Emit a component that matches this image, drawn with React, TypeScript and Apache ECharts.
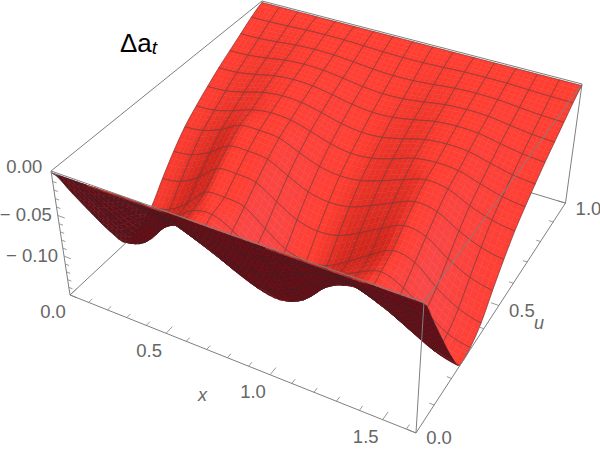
import React, { useEffect, useRef } from "react";
import * as echarts from "echarts";

const xTicks = [0, 0.5, 1, 1.5];
const xTickLabels = ["0.0", "0.5", "1.0", "1.5"];
const uTicks = [0, 0.5, 1];
const uTickLabels = ["0.0", "0.5", "1.0"];
const zTicks = [0, -0.05, -0.1];
const zTickLabels = ["0.00", "\u2212 0.05", "\u2212 0.10"];
const xMax = 1.64;
const zTop = 0.002;
const zBottom = -0.15;

// Surface heights: one row per u mesh line (u = 0 to 1), 17 values along x.
const zU00 = [0, 0, 0, 0, 0, 0, 0, 0, 0, 0, 0, 0, 0, 0, 0, 0, 0];
const zU01 = [-0.039, -0.0367, -0.0296, -0.026, -0.0265, -0.0308, -0.0347, -0.0378, -0.039, -0.0363, -0.0296, -0.0261, -0.0254, -0.0289, -0.0332, -0.0371, -0.039];
const zU02 = [-0.0795, -0.0747, -0.0604, -0.053, -0.0541, -0.0628, -0.0708, -0.0771, -0.0795, -0.0739, -0.0604, -0.0533, -0.0517, -0.0588, -0.0676, -0.0755, -0.0795];
const zU03 = [-0.1185, -0.1114, -0.0901, -0.079, -0.0806, -0.0936, -0.1055, -0.1149, -0.1185, -0.1102, -0.0901, -0.0794, -0.077, -0.0877, -0.1007, -0.1126, -0.1185];
const zU04 = [-0.15, -0.141, -0.114, -0.1001, -0.102, -0.1185, -0.1335, -0.1455, -0.15, -0.1395, -0.114, -0.1005, -0.0975, -0.111, -0.1275, -0.1425, -0.15];
const zU05 = [-0.147, -0.1397, -0.116, -0.098, -0.0941, -0.1058, -0.125, -0.1411, -0.147, -0.1411, -0.118, -0.1029, -0.0926, -0.1029, -0.122, -0.1397, -0.147];
const zU06 = [-0.135, -0.1296, -0.1134, -0.09, -0.0882, -0.0918, -0.1107, -0.1283, -0.135, -0.131, -0.1161, -0.0986, -0.0837, -0.0891, -0.1107, -0.1269, -0.135];
const zU07 = [-0.1125, -0.108, -0.0945, -0.075, -0.0735, -0.0765, -0.0923, -0.1069, -0.1125, -0.1091, -0.0968, -0.0821, -0.0698, -0.0743, -0.0923, -0.1058, -0.1125];
const zU08 = [-0.0915, -0.0878, -0.0769, -0.061, -0.0597, -0.0622, -0.075, -0.0869, -0.0915, -0.0888, -0.0787, -0.0668, -0.0567, -0.0604, -0.075, -0.086, -0.0915];
const zU09 = [-0.0735, -0.0706, -0.0617, -0.049, -0.048, -0.05, -0.0603, -0.0698, -0.0735, -0.0713, -0.0632, -0.0537, -0.0456, -0.0485, -0.0603, -0.0691, -0.0735];
const zU10 = [-0.06, -0.0582, -0.0516, -0.0432, -0.0396, -0.0414, -0.048, -0.0558, -0.06, -0.0582, -0.051, -0.0426, -0.0396, -0.0414, -0.0492, -0.0564, -0.06];
const zU11 = [-0.048, -0.0466, -0.0413, -0.0346, -0.0317, -0.0331, -0.0384, -0.0446, -0.048, -0.0466, -0.0408, -0.0341, -0.0317, -0.0331, -0.0394, -0.0451, -0.048];
const zU12 = [-0.0368, -0.0357, -0.0316, -0.0265, -0.0243, -0.0254, -0.0294, -0.0342, -0.0368, -0.0357, -0.0313, -0.0261, -0.0243, -0.0254, -0.0302, -0.0346, -0.0368];
const zU13 = [-0.027, -0.0262, -0.0232, -0.0194, -0.0178, -0.0186, -0.0216, -0.0251, -0.027, -0.0262, -0.023, -0.0192, -0.0178, -0.0186, -0.0221, -0.0254, -0.027];
const zU14 = [-0.0173, -0.0168, -0.0149, -0.0125, -0.0114, -0.0119, -0.0138, -0.0161, -0.0173, -0.0168, -0.0147, -0.0123, -0.0114, -0.0119, -0.0142, -0.0163, -0.0173];
const zU15 = [-0.0075, -0.0073, -0.0065, -0.0054, -0.005, -0.0052, -0.006, -0.007, -0.0075, -0.0073, -0.0064, -0.0053, -0.005, -0.0052, -0.0062, -0.0071, -0.0075];
const zU16 = [0, 0, 0, 0, 0, 0, 0, 0, 0, 0, 0, 0, 0, 0, 0, 0, 0];
const zTable: number[][] = [zU00, zU01, zU02, zU03, zU04, zU05, zU06, zU07, zU08, zU09, zU10, zU11, zU12, zU13, zU14, zU15, zU16];

function project(xi: number, u: number, Z: number): [number, number] {
  const w = -0.1323 * xi + 0.2309 * u + 0.075 * Z + 1;
  return [(316.9 * xi + 271.5 * u + 24.25 * Z + 51) / w, (91.05 * xi - 169.8 * u + 146.1 * Z + 171) / w];
}
const normZ = (z: number) => (zTop - z) / (zTop - zBottom);
const SUB = 4;
const N = 16;
function cr(a: number, b: number, c: number, d: number, t: number) {
  return 0.5 * (2 * b + (c - a) * t + (2 * a - 5 * b + 4 * c - d) * t * t + (3 * b - a - 3 * c + d) * t * t * t);
}
function zAt(s: number, t: number) {
  const k = Math.min(N - 1, Math.floor(s));
  const j = Math.min(N - 1, Math.floor(t));
  const fs = s - k;
  const ft = t - j;
  const vals = [-1, 0, 1, 2].map((dj) => {
    const r = zTable[Math.max(0, Math.min(N, j + dj))];
    const g = (i: number) => r[Math.max(0, Math.min(N, i))];
    return cr(g(k - 1), g(k), g(k + 1), g(k + 2), fs);
  });
  return Math.max(zBottom, cr(vals[0], vals[1], vals[2], vals[3], ft));
}
function lerp(a: number[], b: number[], t: number) {
  return a.map((v, i) => v + (b[i] - v) * t);
}
function shade(gx: number) {
  const base = [255, 62, 50];
  const dark = [208, 38, 28];
  const pink = [248, 72, 72];
  const t = gx < 0 ? Math.max(-1, gx * 0.55) : Math.min(1, gx * 0.4);
  const c = t < 0 ? lerp(base, dark, -t) : lerp(base, pink, t);
  return `rgb(${c.map((v) => Math.round(v)).join(",")})`;
}

const cells: number[][] = [];
for (let j = N - 1; j >= 0; j--) for (let k = 0; k < N; k++) cells.push([k, j]);

export default function App() {
  const ref = useRef<HTMLDivElement>(null);
  useEffect(() => {
    const chart = echarts.init(ref.current!, undefined, { renderer: "svg" });
    const p3 = (api: any, x: number, u: number, z: number) =>
      api.coord(project(x / xMax, u, normZ(z)));
    const edge = (api: any, a: number[], b: number[], width = 1) => ({
      type: "line",
      shape: (() => {
        const p = p3(api, a[0], a[1], a[2]);
        const q = p3(api, b[0], b[1], b[2]);
        return { x1: p[0], y1: p[1], x2: q[0], y2: q[1] };
      })(),
      style: { stroke: "#7f7f7f", lineWidth: width },
    });
    const backEdges = [
      [[0, 0, zTop], [0, 1, zTop]],
      [[0, 1, zTop], [xMax, 1, zTop]],
      [[0, 1, zTop], [0, 1, zBottom]],
      [[0, 0, zBottom], [0, 1, zBottom]],
      [[0, 1, zBottom], [xMax, 1, zBottom]],
      [[xMax, 1, zTop], [xMax, 1, zBottom]],
    ];
    const frontEdges = [
      [[0, 0, zTop], [xMax, 0, zTop]],
      [[xMax, 0, zTop], [xMax, 1, zTop]],
      [[xMax, 0, zTop], [xMax, 0, zBottom]],
      [[0, 0, zTop], [0, 0, zBottom]],
      [[0, 0, zBottom], [xMax, 0, zBottom]],
      [[xMax, 0, zBottom], [xMax, 1, zBottom]],
    ];
    const tickLines: number[][][] = [];
    for (let i = 0; i * 0.1 < xMax; i++) {
      const x = i * 0.1;
      tickLines.push([[x, 0, zBottom], [x, i % 5 === 0 ? 0.028 : 0.016, zBottom]]);
    }
    for (let i = 0; i <= 10; i++) {
      const u = i * 0.1;
      tickLines.push([[xMax, u, zBottom], [xMax - (i % 5 === 0 ? 0.036 : 0.02), u, zBottom]]);
    }
    for (let i = 0; i <= 15; i++) {
      const z = -i * 0.01;
      tickLines.push([[0, 0, z], [i % 5 === 0 ? 0.036 : 0.02, 0, z]]);
    }
    const xLab = xTicks.map((t, i) => ({ p: [t, 0, zBottom], s: xTickLabels[i], dx: -17, dy: 17, a: "center" }));
    const uLab = uTicks.map((t, i) => ({ p: [xMax, t, zBottom], s: uTickLabels[i], dx: 23, dy: 5, a: "center" }));
    const zLab = zTicks.map((t, i) => ({ p: [0, 0, t], s: zTickLabels[i], dx: i === 0 ? -9 : -6, dy: i === 0 ? -6 : -1, a: "right" }));
    const labels = [...xLab, ...uLab, ...zLab];

    chart.setOption({
      animation: false,
      title: {
        text: "{a|\u0394a}{b|t}",
        left: 115,
        top: 23,
        textStyle: {
          rich: {
            a: { fontFamily: "Liberation Sans", fontWeight: "normal", fontSize: 26, color: "#000" },
            b: { fontFamily: "Liberation Sans", fontWeight: "normal", fontStyle: "italic", fontSize: 19, color: "#000", padding: [10, 0, 0, 0] },
          },
        },
      },
      grid: { left: 0, right: 0, top: 0, bottom: 0 },
      xAxis: { type: "value", min: 0, max: 600, show: false },
      yAxis: { type: "value", min: 0, max: 451, inverse: true, show: false },
      series: [
        {
          type: "custom",
          coordinateSystem: "cartesian2d",
          silent: true,
          z: 1,
          data: backEdges.map((_, i) => [i]),
          renderItem: (p: any, api: any) => {
            const e = backEdges[api.value(0)];
            return edge(api, e[0], e[1]);
          },
        },
        {
          type: "custom",
          coordinateSystem: "cartesian2d",
          silent: true,
          z: 2,
          data: cells,
          renderItem: (p: any, api: any) => {
            const k0 = api.value(0);
            const j0 = api.value(1);
            const children: any[] = [];
            const lines: any[] = [];
            const P = (s: number, t: number) => p3(api, (s / N) * xMax, t / N, zAt(s, t));
            for (let b = SUB - 1; b >= 0; b--) {
              for (let a = 0; a < SUB; a++) {
                const s0 = k0 + a / SUB;
                const s1 = k0 + (a + 1) / SUB;
                const t0 = j0 + b / SUB;
                const t1 = j0 + (b + 1) / SUB;
                const q = [P(s0, t0), P(s1, t0), P(s1, t1), P(s0, t1)];
                let area = 0;
                for (let i = 0; i < 4; i++) {
                  const n = q[(i + 1) % 4];
                  area += q[i][0] * n[1] - n[0] * q[i][1];
                }
                const under = area > 0;
                const gx = ((normZ(zAt(s1, (t0 + t1) / 2)) - normZ(zAt(s0, (t0 + t1) / 2))) / (s1 - s0)) * N;
                const fill = under ? "#5e1018" : shade(gx);
                children.push({
                  type: "polygon",
                  shape: { points: q },
                  style: { fill, stroke: fill, lineWidth: 0.5 },
                });
                const lc = under ? "#3a2528" : "#5c3a3a";
                const seg = (m: number[], n: number[]) =>
                  lines.push({
                    type: "line",
                    shape: { x1: m[0], y1: m[1], x2: n[0], y2: n[1] },
                    style: { stroke: lc, lineWidth: 0.55 },
                  });
                if (b === 0) seg(q[0], q[1]);
                if (b === SUB - 1) seg(q[3], q[2]);
                if (a === 0) seg(q[0], q[3]);
                if (a === SUB - 1) seg(q[1], q[2]);
              }
            }
            return { type: "group", children: [...children, ...lines] };
          },
        },
        {
          type: "custom",
          coordinateSystem: "cartesian2d",
          silent: true,
          z: 3,
          data: frontEdges.map((_, i) => [i]),
          renderItem: (p: any, api: any) => {
            const e = frontEdges[api.value(0)];
            return edge(api, e[0], e[1]);
          },
        },
        {
          type: "custom",
          coordinateSystem: "cartesian2d",
          silent: true,
          z: 3,
          data: tickLines.map((_, i) => [i]),
          renderItem: (p: any, api: any) => {
            const e = tickLines[api.value(0)];
            return edge(api, e[0], e[1], 0.8);
          },
        },
        {
          type: "custom",
          coordinateSystem: "cartesian2d",
          silent: true,
          z: 4,
          data: labels.map((_, i) => [i]),
          renderItem: (p: any, api: any) => {
            const l = labels[api.value(0)];
            const c = p3(api, l.p[0], l.p[1], l.p[2]);
            return {
              type: "text",
              x: c[0] + l.dx,
              y: c[1] + l.dy,
              style: {
                text: l.s,
                fontFamily: "Liberation Sans",
                fontSize: 18.5,
                fill: "#666",
                align: l.a,
                verticalAlign: "middle",
              },
            };
          },
        },
        {
          type: "custom",
          coordinateSystem: "cartesian2d",
          silent: true,
          z: 4,
          data: [
            [0.8, 0, zBottom, -25, 37],
            [xMax, 0.5, zBottom, 40, 18],
          ],
          renderItem: (p: any, api: any) => {
            const c = p3(api, api.value(0), api.value(1), api.value(2));
            return {
              type: "text",
              x: c[0] + api.value(3),
              y: c[1] + api.value(4),
              style: {
                text: ["x", "u"][p.dataIndex],
                fontFamily: "Liberation Sans",
                fontStyle: "italic",
                fontSize: 18,
                fill: "#666",
                align: "center",
                verticalAlign: "middle",
              },
            };
          },
        },
      ],
    });
    return () => chart.dispose();
  }, []);
  return <div ref={ref} style={{ position: "absolute", left: 0, top: 0, width: 600, height: 451 }} />;
}
